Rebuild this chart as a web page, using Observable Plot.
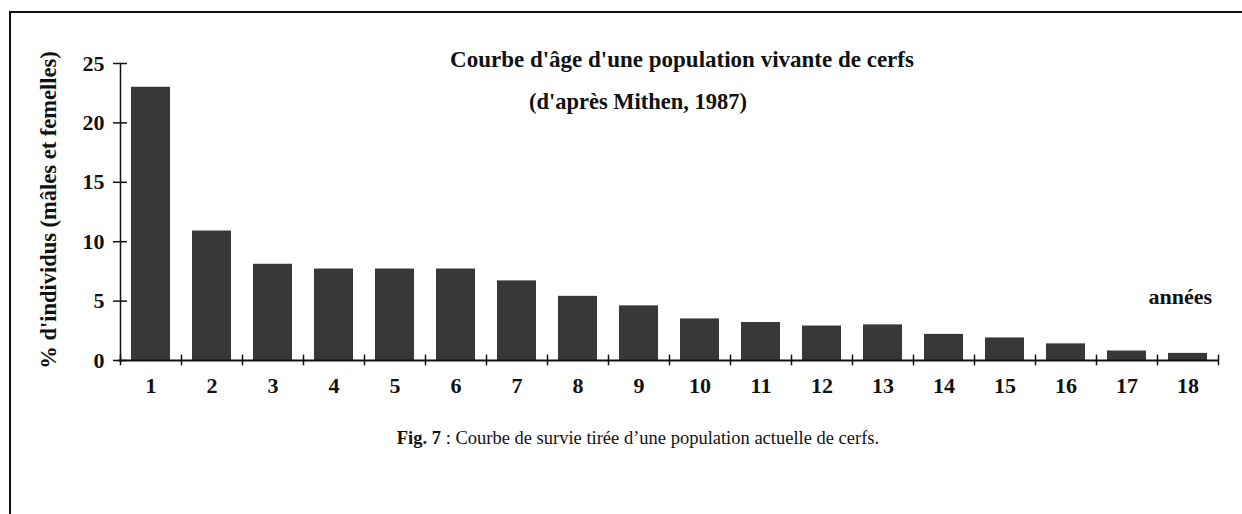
<!DOCTYPE html>
<html><head><meta charset="utf-8">
<script src="https://cdn.jsdelivr.net/npm/d3@7"></script>
<script src="https://cdn.jsdelivr.net/npm/@observablehq/plot@0.6"></script>
<style>
body{margin:0;background:#fff;}
#wrap{position:relative;width:1242px;height:514px;overflow:hidden;}
#frame{position:absolute;left:9px;top:11px;width:1240px;height:520px;border-left:2px solid #111;border-top:2px solid #111;}
#chart{position:absolute;left:0;top:0;}
</style></head><body><div id="wrap"><div id="frame"></div><div id="chart"></div></div>
<script>
const ages = [1,2,3,4,5,6,7,8,9,10,11,12,13,14,15,16,17,18];
const values = [23.0, 10.9, 8.1, 7.7, 7.7, 7.7, 6.7, 5.4, 4.6, 3.5, 3.2, 2.9, 3.0, 2.2, 1.9, 1.4, 0.8, 0.6];
const yTicks = [0, 5, 10, 15, 20, 25];
const boundaries = [0.5,1.5,2.5,3.5,4.5,5.5,6.5,7.5,8.5,9.5,10.5,11.5,12.5,13.5,14.5,15.5,16.5,17.5,18.5];
const title = "Courbe d'âge d'une population vivante de cerfs";
const subtitle = "(d'après Mithen, 1987)";
const yLabel = "% d'individus (mâles et femelles)";
const xLabel = "années";
const captionBold = "Fig. 7";
const captionRest = " : Courbe de survie tirée d’une population actuelle de cerfs.";

const data = ages.map((a, i) => ({age: a, value: values[i]}));
const font = "'Liberation Serif', 'Times New Roman', serif";

const svg = Plot.plot({
  width: 1242, height: 514,
  marginLeft: 120, marginRight: 24, marginTop: 63, marginBottom: 154,
  style: {fontFamily: font, background: "transparent", overflow: "visible"},
  x: {domain: [0.5, 18.5], axis: null},
  y: {domain: [0, 25], axis: null},
  marks: [
    Plot.rectY(data, {x1: d => d.age - 0.32, x2: d => d.age + 0.32, y: "value", fill: "#383838"}),
    Plot.ruleY([0], {x1: 0.47, x2: 18.5, stroke: "#111", strokeWidth: 2}),
    Plot.ruleX([0.5], {y1: 0, y2: 25, stroke: "#111", strokeWidth: 1.5}),
    Plot.ruleX(boundaries, {y1: -0.45, y2: 0.45, stroke: "#111", strokeWidth: 1.5}),
    Plot.ruleY(yTicks, {x1: 0.385, x2: 0.615, stroke: "#111", strokeWidth: 1.5}),
    Plot.text(data, {x: "age", y: 0, text: d => String(d.age), dy: 25, fontWeight: "bold", fontSize: 22, fill: "#111"}),
    Plot.text(yTicks, {x: 0.5, y: d => d, text: d => String(d), dx: -16, textAnchor: "end", fontWeight: "bold", fontSize: 22, fill: "#111"}),
    Plot.text([yLabel], {frameAnchor: "left", textAnchor: "middle", text: d => d, rotate: -90, dx: -72, dy: -2, fontWeight: "bold", fontSize: 22.5, fill: "#111"})
  ]
});
document.getElementById("chart").appendChild(svg);

const s = d3.select(svg);
s.append("text").attr("x", 682).attr("y", 67).attr("text-anchor", "middle")
  .attr("font-family", font).attr("font-weight", "bold").attr("font-size", 23).attr("fill", "#111").text(title);
s.append("text").attr("x", 638).attr("y", 109).attr("text-anchor", "middle")
  .attr("font-family", font).attr("font-weight", "bold").attr("font-size", 22.5).attr("fill", "#111").text(subtitle);
s.append("text").attr("x", 1212).attr("y", 304).attr("text-anchor", "end")
  .attr("font-family", font).attr("font-weight", "bold").attr("font-size", 22).attr("fill", "#111").text(xLabel);
const cap = s.append("text").attr("x", 638).attr("y", 444).attr("text-anchor", "middle")
  .attr("font-family", font).attr("font-size", 18.5).attr("fill", "#111");
cap.append("tspan").attr("font-weight", "bold").text(captionBold);
cap.append("tspan").text(captionRest);
</script></body></html>
